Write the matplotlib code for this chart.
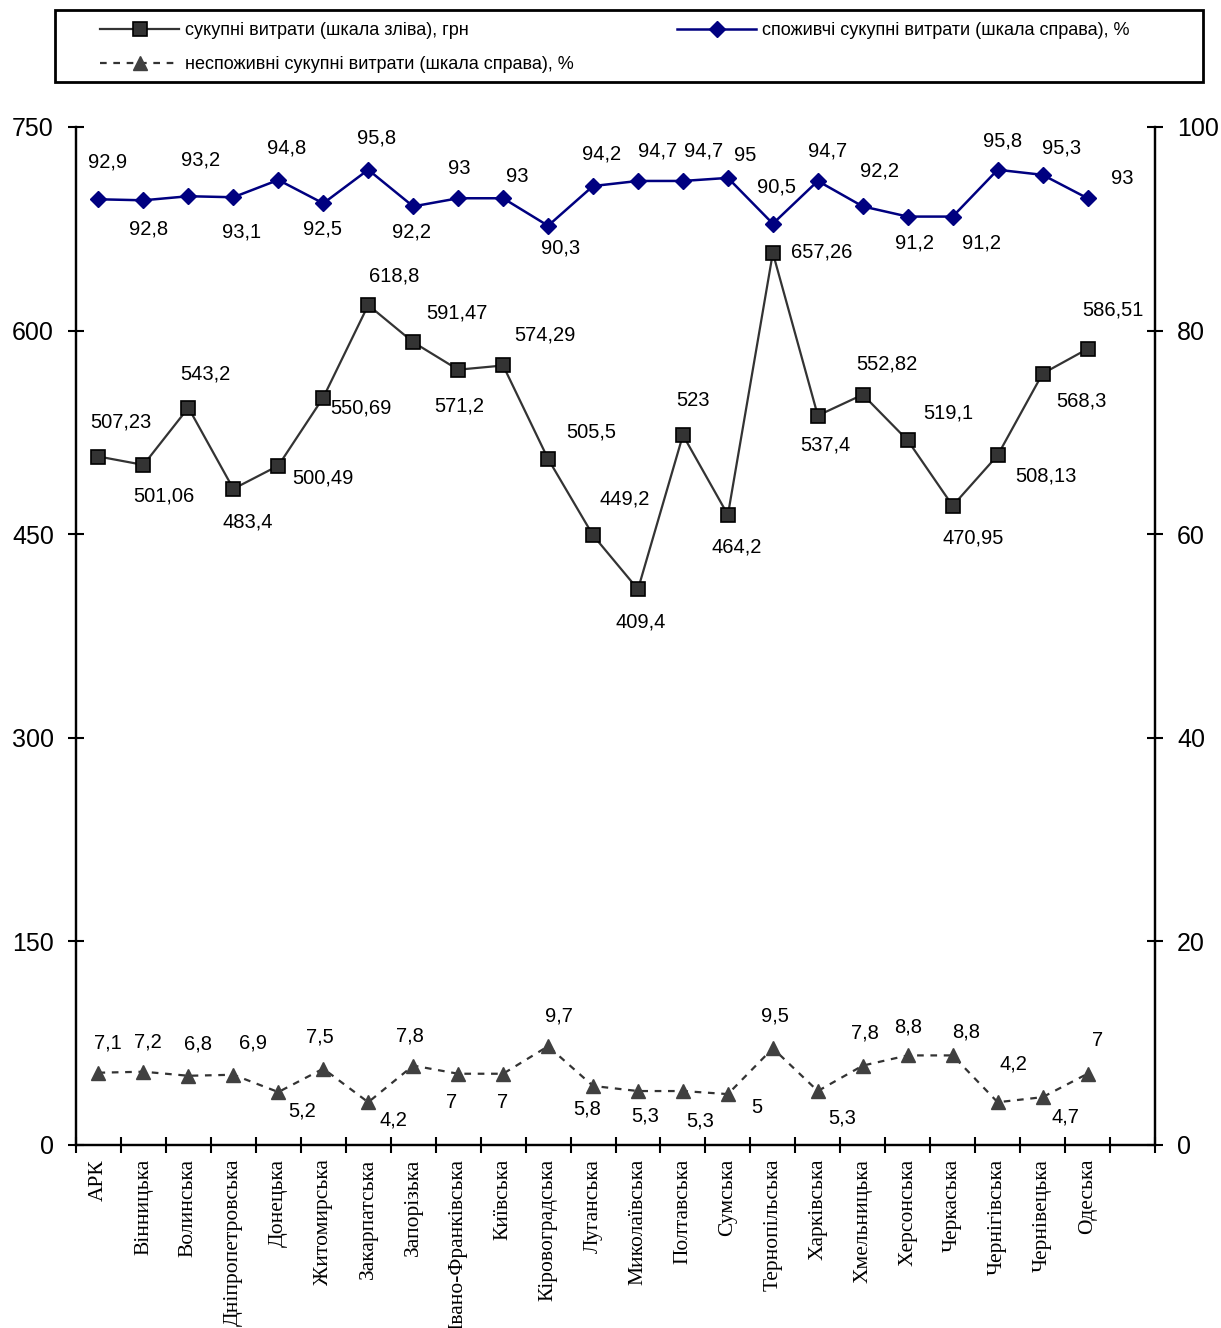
import matplotlib
matplotlib.use('Agg')
import matplotlib.pyplot as plt
from matplotlib.patches import Rectangle
import numpy as np

# Дані
regions = ['АРК', 'Вінницька', 'Волинська', 'Дніпропетровська', 'Донецька',
           'Житомирська', 'Закарпатська', 'Запорізька', 'Івано-Франківська',
           'Київська', 'Кіровоградська', 'Луганська', 'Миколаївська',
           'Полтавська', 'Сумська', 'Тернопільська', 'Харківська',
           'Хмельницька', 'Херсонська', 'Черкаська', 'Чернігівська',
           'Чернівецька', 'Одеська']
total_uah = [507.23, 501.06, 543.2, 483.4, 500.49, 550.69, 618.8, 591.47, 571.2,
             574.29, 505.5, 449.2, 409.4, 523, 464.2, 657.26, 537.4, 552.82,
             519.1, 470.95, 508.13, 568.3, 586.51]
consumer_pct = [92.9, 92.8, 93.2, 93.1, 94.8, 92.5, 95.8, 92.2, 93, 93, 90.3,
                94.2, 94.7, 94.7, 95, 90.5, 94.7, 92.2, 91.2, 91.2, 95.8, 95.3, 93]
nonconsumer_pct = [7.1, 7.2, 6.8, 6.9, 5.2, 7.5, 4.2, 7.8, 7, 7, 9.7, 5.8, 5.3,
                   5.3, 5, 9.5, 5.3, 7.8, 8.8, 8.8, 4.2, 4.7, 7]

# зсуви підписів (пікселі)
off_total = [(22, 35), (20, -31), (17, 34), (14, -33), (45, -12), (38, -10),
             (26, 29), (44, 29), (1, -36), (42, 30), (43, 27), (32, 36),
             (3, -33), (10, 35), (9, -32), (49, 1), (8, -29), (24, 31),
             (41, 27), (21, -32), (48, -21), (39, -27), (25, 39)]
off_cons = [(9, 37), (5, -29), (12, 36), (8, -35), (8, 32), (-1, -26), (8, 32),
            (-2, -26), (1, 30), (14, 22), (13, -22), (9, 32), (20, 30), (21, 30),
            (17, 22), (4, 37), (10, 30), (17, 35), (7, -26), (29, -26), (5, 29),
            (19, 27), (35, 20)]
off_non = [(9, 30), (4, 30), (10, 32), (20, 32), (24, -19), (-3, 32), (25, -18),
           (-3, 30), (-7, -29), (-1, -29), (11, 30), (-6, -23), (7, -25),
           (17, -30), (29, -13), (2, 32), (24, -27), (2, 33), (0, 28), (13, 23),
           (16, 38), (23, -20), (10, 33)]

plt.rcParams['font.family'] = ['Liberation Sans', 'DejaVu Sans']

W, H = 1221, 1328


def fmt(v):
    return '{:g}'.format(v).replace('.', ',')


def put_labels(ax, x, vals, offs):
    for xi, v, (dx, dy) in zip(x, vals, offs):
        ax.annotate(fmt(v), (xi, v), xytext=(dx, dy), textcoords='offset pixels',
                    ha='center', va='center', fontsize=14.5, color='black')


fig = plt.figure(figsize=(W / 100, H / 100), dpi=100)
ax = fig.add_axes([76 / W, 1 - 1145 / H, 1079 / W, 1018 / H])
ax2 = ax.twinx()

x = np.arange(len(regions)) + 0.5

l1, = ax.plot(x, total_uah, color='#333333', lw=1.6, marker='s', ms=10,
              mfc='#333333', mec='black', mew=1.2,
              label='сукупні витрати (шкала зліва), грн')
l2, = ax2.plot(x, consumer_pct, color='#000080', lw=1.8, marker='D', ms=8,
               mfc='#000080', mec='#000080',
               label='споживчі сукупні витрати (шкала справа), %')
l3, = ax2.plot(x, nonconsumer_pct, color='#333333', lw=1.6, ls=(0, (3, 3)),
               marker='^', ms=10, mfc='#404040', mec='#404040',
               label='неспоживні сукупні витрати (шкала справа), %')

put_labels(ax, x, total_uah, off_total)
put_labels(ax2, x, consumer_pct, off_cons)
put_labels(ax2, x, nonconsumer_pct, off_non)

ax.set_xlim(0, 24)
ax.set_ylim(0, 750)
ax2.set_ylim(0, 100)
ax.set_yticks(np.arange(0, 751, 150))
ax2.set_yticks(np.arange(0, 101, 20))
ax.set_xticks(x)
ax.set_xticklabels(regions, rotation=90, family=['Liberation Serif'], fontsize=15.5)
ax.set_xticks(np.arange(0, 25), minor=True)
ax.tick_params(axis='x', which='major', length=0, pad=10)
ax.tick_params(axis='x', which='minor', direction='inout', length=12, width=1.5)
ax.tick_params(axis='y', direction='inout', length=12, width=1.5, labelsize=18, pad=10)
ax2.tick_params(axis='y', direction='inout', length=12, width=1.5, labelsize=18, pad=10)

for a in (ax, ax2):
    a.spines['top'].set_visible(False)
    for s in ('left', 'right', 'bottom'):
        a.spines[s].set_linewidth(1.6)

# легенда: рамка та два блоки
fig.patches.append(Rectangle((55 / W, 1 - 82 / H), 1148 / W, 72 / H,
                             transform=fig.transFigure, fill=False,
                             edgecolor='black', lw=2))
common = dict(fontsize=13, handlelength=4.4, handletextpad=0.3, borderpad=0,
              borderaxespad=0, frameon=False, labelspacing=0.95, loc='upper left')
leg1 = fig.legend(handles=[l1, l3], bbox_to_anchor=(100 / W, 1 - 22 / H), **common)
leg2 = fig.legend(handles=[l2], bbox_to_anchor=(677 / W, 1 - 22 / H), **common)

fig.savefig('out.png', dpi=100)
